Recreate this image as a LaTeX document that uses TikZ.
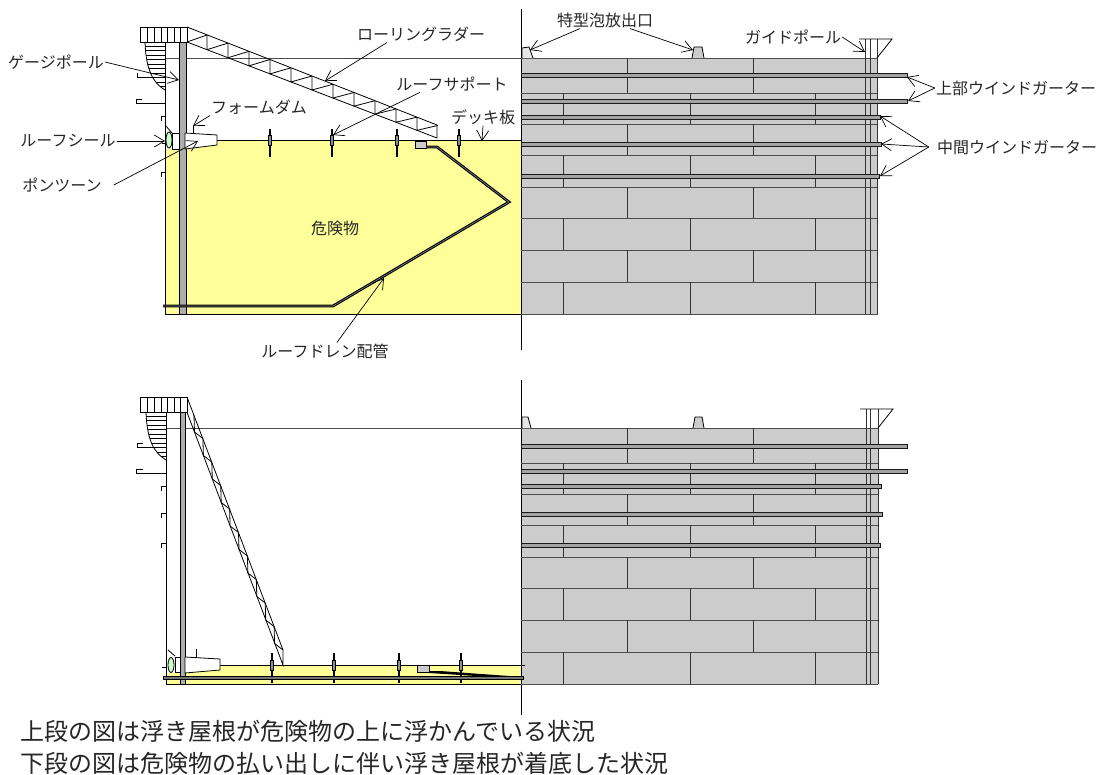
\documentclass[tikz,border=0pt]{standalone}
\usepackage{fontspec}
\setmainfont{Noto Sans CJK JP}
\usetikzlibrary{arrows.meta}
\definecolor{oil}{HTML}{FFFF99}
\definecolor{plate}{HTML}{CCCCCC}
\definecolor{seal}{HTML}{CCFFCC}
\tikzset{
  lbl/.style={inner sep=1pt,text=black!85,font=\fontsize{16}{16}\selectfont},
  note/.style={inner sep=0pt,anchor=west,text=black!85,font=\fontsize{24}{26}\selectfont},
  leader/.style={-{Straight Barb[length=10pt,width=12pt]},line width=0.7pt},
  plain/.style={line width=0.8pt},
  girder/.style={fill=plate!80!black,draw=black!90,line width=0.8pt},
}
\begin{document}
\begin{tikzpicture}[x=1pt,y=-1pt]
  \useasboundingbox (0,0) rectangle (1105,774);
  % upper tank
  \fill[oil] (165,140) rectangle (521,314);
  \fill[white] (165,135) rectangle (185,149);
  \fill[plate] (521,58) rectangle (878,314);
  \draw[plain,black!70] (165,58) -- (521,58);
  \draw[plain] (165,42) -- (165,314) -- (521,314);
  \draw[plain] (185,140) -- (521,140);
  \draw[plain] (521,9) -- (521,350);
  % plate courses
  \foreach \y in {58,93,124,155,187,218,250,282,314}
    \draw[plain,black!70] (521,\y) -- (878,\y);
  \foreach \ya/\yb in {58/93,124/155,187/218,250/282}
    \foreach \x in {627,753}
      \draw[plain,black!80] (\x,\ya) -- (\x,\yb);
  \foreach \ya/\yb in {93/124,155/187,218/250,282/314}
    \foreach \x in {563,690,815}
      \draw[plain,black!80] (\x,\ya) -- (\x,\yb);
  % guide pole
  \draw[plain,black!80] (865,39) -- (865,314) (870,39) -- (870,314) (877,39) -- (877,314);
  \draw[plain] (859,39) -- (892,39) -- (877,58);
  % wind girders
  \foreach \y/\x in {75/907,101/907,117/880,144/881,176/879}
    \draw[girder] (521,\y-2) rectangle (\x,\y+2);
  % foam outlets
  \draw[plain,fill=plate!50] (522,58) -- (522,48) -- (529,47) -- (533,58);
  \draw[plain,fill=plate] (692,58) -- (694,47) -- (702,47) -- (704,58);
  % platform, stairs, brackets
  \draw[plain] (140,27) rectangle (187,42);
  \foreach \x in {147,154,161,167,174,180}
    \draw[plain] (\x,27) -- (\x,42);
  \begin{scope}
    \clip (145,42) .. controls (146,70) and (153,83) .. (165,90) -- (165,42) -- cycle;
    \foreach \y in {46,50.5,...,88}
      \draw[plain] (140,\y) -- (165,\y);
  \end{scope}
  \draw[plain] (145,42) .. controls (146,70) and (153,83) .. (165,90);
  \draw[plain] (137,73) -- (137,77) -- (165,77);
  \draw[plain] (142,99) -- (136,99) -- (136,103) -- (165,103);
  \draw[plain] (165,116) -- (161,116) -- (161,121);
  \draw[plain] (165,172) -- (161,172) -- (161,177);
  \draw[plain] (162,143) -- (166,143);
  % gauge pole
  \draw[plain,fill=plate!85!black] (179,42) rectangle (186,314);
  % rolling ladder
  \draw[plain] (187,27) -- (437,125) -- (437,138) -- (187,42);
  \foreach \x in {207,228,...,417} {
    \pgfmathsetmacro\ya{27+(\x-187)*0.392}
    \pgfmathsetmacro\yb{42+(\x-187)*0.384}
    \pgfmathsetmacro\yc{27+(\x+21-187)*0.392}
    \draw[plain] (\x,\ya) -- (\x,\yb) -- (\x+21,\yc);
  }
  \draw[plain] (187,42) -- (207,35);
  % pontoon and seal
  \draw[plain,fill=white] (185,133) -- (217,135) -- (217,145) -- (185,149) -- cycle;
  \draw[plain,fill=white] (172,133) rectangle (179,149);
  \draw[plain] (166,126) -- (172,133);
  \draw[plain] (193,126) -- (193,134);
  \draw[plain,fill=seal] (169,140) ellipse [x radius=3,y radius=8];
  % roof supports
  \foreach \x in {270,332,397,459} {
    \draw[line width=1.3pt] (\x,129) -- (\x,157);
    \draw[line width=0.6pt,fill=plate!70!black] (\x-1.5,135) rectangle (\x+1.5,145);
  }
  % roof drain
  \draw[plain,fill=plate] (415,141) rectangle (426,148);
  \draw[line width=1.1pt,double=black!50,double distance=0.6pt] (426,147) -- (437,147) -- (509,202) -- (333,306) -- (163,306);
  % lower tank
  \fill[oil] (166,665) rectangle (521,684);
  \fill[white] (166,660) rectangle (185,673);
  \fill[plate] (521,428) rectangle (878,684);
  \draw[plain,black!70] (166,428) -- (521,428);
  \draw[plain] (166,412) -- (166,684) -- (521,684);
  \draw[plain] (185,665) -- (525,665);
  \draw[plain] (521,380) -- (521,715);
  \foreach \y in {428,463,494,525,557,588,620,652,684}
    \draw[plain,black!70] (521,\y) -- (878,\y);
  \foreach \ya/\yb in {428/463,494/525,557/588,620/652}
    \foreach \x in {627,753}
      \draw[plain,black!80] (\x,\ya) -- (\x,\yb);
  \foreach \ya/\yb in {463/494,525/557,588/620,652/684}
    \foreach \x in {563,690,815}
      \draw[plain,black!80] (\x,\ya) -- (\x,\yb);
  \draw[plain,black!80] (866,409) -- (866,684) (870,409) -- (870,684) (878,409) -- (878,684);
  \draw[plain] (860,409) -- (893,409) -- (878,428);
  \foreach \y/\x in {446/907,471/907,486/881,514/882,545/880}
    \draw[girder] (521,\y-2) rectangle (\x,\y+2);
  \draw[plain,fill=plate!50] (522,428) -- (522,417) -- (528,417) -- (531,428);
  \draw[plain,fill=plate] (693,428) -- (695,417) -- (702,417) -- (704,428);
  \draw[plain] (140,397) rectangle (187,412);
  \foreach \x in {147,154,161,167,174,180}
    \draw[plain] (\x,397) -- (\x,412);
  \begin{scope}
    \clip (146,412) .. controls (147,440) and (154,453) .. (166,460) -- (166,412) -- cycle;
    \foreach \y in {416,420.5,...,458}
      \draw[plain] (140,\y) -- (166,\y);
  \end{scope}
  \draw[plain] (146,412) .. controls (147,440) and (154,453) .. (166,460);
  \draw[plain] (143,443) -- (137,443) -- (137,447) -- (166,447);
  \draw[plain] (143,469) -- (136,469) -- (136,473) -- (166,473);
  \draw[plain] (166,486) -- (161,486) -- (161,491);
  \draw[plain] (166,513) -- (161,513) -- (161,518);
  \draw[plain] (166,543) -- (161,543) -- (161,548);
  \draw[plain] (162,667) -- (166,667);
  \draw[plain,fill=plate!85!black] (180,412) rectangle (185,684);
  % ladder let down
  \draw[plain] (187,397) -- (283,650) -- (283,665) -- (188,415) -- (187,412);
  \foreach \i in {0,...,9} {
    \pgfmathsetmacro\xa{194+8.9*\i}
    \pgfmathsetmacro\ya{415+23.5*\i}
    \pgfmathsetmacro\xb{194.5+8.9*\i}
    \pgfmathsetmacro\yb{432+23.5*\i}
    \pgfmathsetmacro\xc{194+8.9*(\i+1)}
    \pgfmathsetmacro\yc{415+23.5*(\i+1)}
    \draw[plain] (\xa,\ya) -- (\xb,\yb) -- (\xc,\yc);
  }
  \draw[plain,fill=white] (185,657) -- (220,659) -- (220,670) -- (185,673) -- cycle;
  \draw[plain,fill=white] (175,657) rectangle (180,672);
  \draw[plain] (168,650) -- (175,656);
  \draw[plain] (196,649) -- (196,658);
  \draw[plain,fill=seal] (171,665) ellipse [x radius=3,y radius=7.5];
  \foreach \x in {272,334,399,461} {
    \draw[line width=1.3pt] (\x,653) -- (\x,683);
    \draw[line width=0.6pt,fill=plate!70!black] (\x-1.5,660) rectangle (\x+1.5,670);
  }
  \draw[plain,fill=plate] (417,665) rectangle (429,672);
  \fill (429,671) -- (440,671) -- (523,677) -- (523,679) -- (429,673) -- cycle;
  \draw[line width=0.7pt,fill=black!55] (163,676.5) rectangle (523,679);
  % arrow ends
  \coordinate (gaugept) at (179,80);
  \coordinate (ladderpt) at (325,81);
  \coordinate (foampta) at (530,50);
  \coordinate (foamptb) at (693,50);
  \coordinate (guidept) at (865,52);
  \coordinate (uppera) at (907,77);
  \coordinate (upperb) at (908,101);
  \coordinate (mida) at (880,116);
  \coordinate (midb) at (881,144);
  \coordinate (midc) at (880,176);
  \coordinate (supportpt) at (333,135);
  \coordinate (dampt) at (193,126);
  \coordinate (deckpt) at (482,141);
  \coordinate (sealpt) at (165,141);
  \coordinate (pontpt) at (198,141);
  \coordinate (drainpt) at (384,278);
  % labels
  \node[lbl] (gauge) at (56,62) {ゲージポール};
  \node[lbl] (ladder) at (421,34) {ローリングラダー};
  \node[lbl] (foam) at (605,20) {特型泡放出口};
  \node[lbl] (guide) at (793,37) {ガイドポール};
  \node[lbl] (upper) at (1016,88) {上部ウインドガーター};
  \node[lbl] (mid) at (1017,147) {中間ウインドガーター};
  \node[lbl] (support) at (452,84) {ルーフサポート};
  \node[lbl] (dam) at (259,107) {フォームダム};
  \node[lbl] (deck) at (483,117) {デッキ板};
  \node[lbl] (rseal) at (68,141) {ルーフシール};
  \node[lbl] (pont) at (62,185) {ポンツーン};
  \node[lbl] (oiltxt) at (335,228) {危険物};
  \node[lbl] (drain) at (325,351) {ルーフドレン配管};
  \node[note] (notea) at (20,731) {上段の図は浮き屋根が危険物の上に浮かんでいる状況};
  \node[note] (noteb) at (20,763) {下段の図は危険物の払い出しに伴い浮き屋根が着底した状況};
  % leaders
  \draw[leader] (gauge.east) -- (gaugept);
  \draw[leader] ([xshift=-34pt]ladder.south) -- (ladderpt);
  \draw[leader] ([xshift=-25pt]foam.south) -- (foampta);
  \draw[leader] ([xshift=25pt]foam.south) -- (foamptb);
  \draw[leader] (guide.east) -- (guidept);
  \draw[leader] (upper.west) -- (uppera);
  \draw[leader] (upper.west) -- (upperb);
  \draw[leader] ([xshift=-7pt]mid.west) -- (mida);
  \draw[leader] ([xshift=-7pt]mid.west) -- (midb);
  \draw[leader] ([xshift=-7pt]mid.west) -- (midc);
  \draw[leader] ([xshift=-32pt]support.south) -- (supportpt);
  \draw[leader] (dam.south west) -- (dampt);
  \draw[leader] (deck.south) -- (deckpt);
  \draw[leader] (rseal.east) -- (sealpt);
  \draw[leader] ([xshift=11pt]pont.east) -- (pontpt);
  \draw[leader] ([xshift=12pt]drain.north) -- (drainpt);
\end{tikzpicture}
\end{document}
